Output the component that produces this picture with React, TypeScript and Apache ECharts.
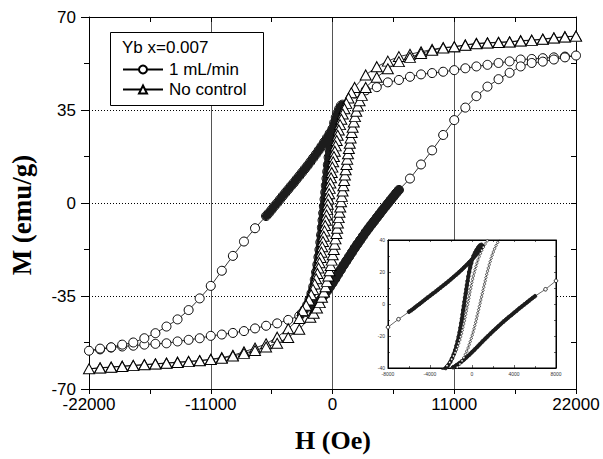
import React, { useEffect, useRef } from "react";
import * as echarts from "echarts";

type P = [number, number];

// ---- axis ranges / ticks ----
const X_MIN = -22000, X_MAX = 22000, X_STEP = 11000, X_MINOR = 5500;
const Y_MIN = -70, Y_MAX = 70, Y_STEP = 35, Y_MINOR = 17.5;
const IX_MIN = -8000, IX_MAX = 8000, IX_STEP = 4000;
const IY_MIN = -40, IY_MAX = 40, IY_STEP = 20;

const LEGEND_TITLE = "Yb x=0.007";
const NAME_A = "1 mL/min";
const NAME_B = "No control";
const X_TITLE = "H (Oe)";
const Y_TITLE = "M (emu/g)";

// ---- 1 mL/min (circles), [H (Oe), M (emu/g)] ----
const circUpperRight: P[] = [[2000,41.2],[3000,42.4],[4000,43.6],[5000,45.4],[6000,46.3],[7000,47.5],[8000,48.4],[9000,48.9],[10000,49.4],[11000,50.0],[12000,50.7],[13000,51.4],[14000,52.0],[15000,52.7],[16000,53.3],[17000,54.0],[18000,54.2],[19000,54.5],[20000,54.8],[21000,55.1],[22000,55.5]];
const circLowerRight: P[] = [[21000,54.8],[20000,54.0],[19000,53.2],[18000,52.7],[17000,51.4],[16000,49.0],[15000,46.6],[14000,43.8],[13000,40.2],[12000,35.9],[11000,31.2],[10000,25.6],[9000,19.8],[8000,14.5],[7000,9.2],[6000,4.9]];
const circLowerBand: P[] = [[5750,3.7],[5500,2.4],[5250,1.1],[5000,-0.2],[4750,-1.5],[4500,-2.8],[4250,-4.2],[4000,-5.5],[3750,-6.9],[3500,-8.2],[3250,-9.6],[3000,-11.0],[2750,-12.5],[2500,-14.0],[2250,-15.5],[2000,-17.0],[1750,-18.6],[1500,-20.2],[1250,-21.8],[1000,-23.4],[750,-25.1],[500,-26.8],[250,-28.5],[0,-30.1],[-250,-31.7],[-500,-33.2],[-750,-34.7],[-1000,-36.0],[-1250,-37.2],[-1500,-38.3],[-1800,-39.5]];
const circLowerLeft: P[] = [[-2400,-41.0],[-3000,-42.5],[-4000,-44.0],[-5000,-45.3],[-6000,-46.2],[-7000,-47.2],[-8000,-48.2],[-9000,-48.9],[-10000,-49.5],[-11000,-50.0],[-12000,-50.9],[-13000,-51.5],[-14000,-52.1],[-15000,-52.8],[-16000,-53.0],[-17000,-53.3],[-18000,-53.7],[-19000,-54.0],[-20000,-54.4],[-21000,-55.1],[-22000,-55.6]];
const circUpperLeft: P[] = [[-21000,-54.8],[-20000,-54.3],[-19000,-53.3],[-18000,-52.5],[-17000,-50.9],[-16000,-49.0],[-15000,-46.5],[-14000,-43.8],[-13000,-40.3],[-12000,-35.9],[-11000,-31.2],[-10000,-25.5],[-9000,-19.9],[-8000,-14.5],[-7000,-9.5],[-6000,-4.9]];
const circUpperBand: P[] = [[-5750,-3.8],[-5500,-2.5],[-5250,-1.2],[-5000,0.0],[-4750,1.3],[-4500,2.6],[-4250,3.9],[-4000,5.1],[-3750,6.4],[-3500,7.6],[-3250,8.9],[-3000,10.2],[-2750,11.5],[-2500,12.8],[-2250,14.1],[-2000,15.5],[-1750,16.9],[-1500,18.3],[-1250,19.8],[-1000,21.3],[-750,22.9],[-500,24.5],[-250,26.2],[0,27.9],[250,29.7],[500,31.6],[750,33.6],[900,35.0],[1000,36.2]];
const circSteep: P[] = [[900,37.0],[750,36.6],[600,35.4],[450,33.9],[300,32.2],[150,30.2],[30,28.0],[-80,25.5],[-180,22.8],[-270,20.0],[-350,17.2],[-420,14.4],[-480,11.8],[-540,9.2],[-600,6.6],[-660,4.0],[-720,1.4],[-780,-1.2],[-840,-3.8],[-900,-6.5],[-960,-9.2],[-1030,-12.0],[-1100,-14.8],[-1180,-17.6],[-1270,-20.4],[-1370,-23.2],[-1480,-26.0],[-1600,-28.8],[-1740,-31.5],[-1900,-34.0],[-2080,-36.3],[-2280,-38.3],[-2500,-40.0],[-2750,-41.4]];

// ---- No control (triangles) ----
const triUpperRight: P[] = [[22000,62.8],[21000,62.6],[20000,62.2],[19000,61.7],[18000,61.3],[17000,61.1],[16000,60.7],[15000,60.5],[14000,60.3],[13000,60.1],[12000,59.5],[11000,58.8],[10000,58.5],[9000,57.8],[8000,56.9],[7000,56.0],[6000,55.1],[5000,53.4],[4000,51.3],[3000,48.2],[2000,43.5]];
const triLeftColumn: P[] = [[1700,41.5],[1450,39.5],[1250,37.5],[1080,35.5],[930,33.5],[800,31.5],[680,29.5],[570,27.5],[470,25.5],[380,23.5],[290,21.5],[210,19.5],[130,17.5],[60,15.5],[-10,13.5],[-70,11.5],[-130,9.5],[-190,7.5],[-250,5.5],[-300,3.5],[-360,1.5],[-420,-0.5],[-480,-2.5],[-540,-4.5],[-600,-6.5],[-660,-8.5],[-720,-10.5],[-790,-12.5],[-860,-14.5],[-930,-16.5],[-1000,-18.5],[-1080,-20.5],[-1170,-22.5],[-1260,-24.5],[-1360,-26.5],[-1480,-28.5],[-1610,-30.5],[-1760,-32.5],[-1930,-34.5],[-2130,-36.5],[-2380,-38.5],[-2700,-40.5]];
const triUpperLeft: P[] = [[-3000,-43.5],[-4000,-47.3],[-5000,-50.5],[-6000,-53.0],[-7000,-54.6],[-8000,-56.0],[-9000,-57.3],[-10000,-58.2],[-11000,-58.8],[-12000,-59.3],[-13000,-59.6],[-14000,-59.9],[-15000,-60.2],[-16000,-60.5],[-17000,-60.8],[-18000,-61.1],[-19000,-61.4],[-20000,-61.7],[-21000,-62.0],[-22000,-62.4]];
const triLowerLeft: P[] = [[-21000,-62.1],[-20000,-61.8],[-19000,-61.5],[-18000,-61.2],[-17000,-60.9],[-16000,-60.6],[-15000,-60.3],[-14000,-60.0],[-13000,-59.7],[-12000,-59.4],[-11000,-58.9],[-10000,-58.4],[-9000,-57.6],[-8000,-56.6],[-7000,-55.5],[-6000,-54.2],[-5000,-52.8],[-4000,-50.6],[-3000,-47.5],[-2000,-43.0]];
const triRightColumn: P[] = [[-1700,-41.5],[-1400,-39.5],[-1150,-37.5],[-950,-35.5],[-780,-33.5],[-630,-31.5],[-500,-29.5],[-380,-27.5],[-270,-25.5],[-170,-23.5],[-70,-21.5],[20,-19.5],[110,-17.5],[190,-15.5],[270,-13.5],[350,-11.5],[420,-9.5],[490,-7.5],[560,-5.5],[630,-3.5],[700,-1.5],[770,0.5],[840,2.5],[910,4.5],[980,6.5],[1050,8.5],[1120,10.5],[1190,12.5],[1260,14.5],[1330,16.5],[1400,18.5],[1480,20.5],[1560,22.5],[1640,24.5],[1730,26.5],[1820,28.5],[1920,30.5],[2030,32.5],[2150,34.5],[2290,36.5],[2450,38.5],[2650,40.5]];
const triLowerRight: P[] = [[3000,43.5],[4000,47.3],[5000,50.5],[6000,53.2],[7000,54.8],[8000,56.3],[9000,57.5],[10000,58.3],[11000,58.8],[12000,59.4],[13000,59.9],[14000,60.2],[15000,60.4],[16000,60.6],[17000,61.0],[18000,61.2],[19000,61.6],[20000,62.1],[21000,62.5],[22000,62.8]];

const SANS = "'Liberation Sans', Arial, sans-serif";
const SERIF = "'Liberation Serif', 'Times New Roman', serif";

export default function App() {
  const ref = useRef<HTMLDivElement>(null);
  useEffect(() => {
    if (!ref.current) return;
    const chart = echarts.init(ref.current, undefined, { renderer: "svg" });

    const circData = [
      ...circUpperRight, ...circLowerRight, ...circLowerBand, ...circLowerLeft,
      ...circUpperLeft, ...circUpperBand, ...circSteep,
    ];
    const triData = [
      ...triUpperRight, ...triLeftColumn, ...triUpperLeft,
      ...triLowerLeft, ...triRightColumn, ...triLowerRight,
    ];
    // densely measured stretches of the 1 mL/min curve (drawn as dark bands)
    const bandLower = [circLowerRight[circLowerRight.length - 1], ...circLowerBand];
    const bandUpper = [circUpperLeft[circUpperLeft.length - 1], ...circUpperBand, ...circSteep];

    const black = "#000";
    const plain = (v: number) => String(v);
    const mainLabel = { color: black, fontSize: 17, fontFamily: SANS, formatter: plain, lineHeight: 14 };
    const insetLabel = { color: "#333", fontSize: 5, fontFamily: SANS, formatter: plain };

    const band = (name: string, data: P[], xi: number, w: number, z: number) => ({
      name, type: "line", xAxisIndex: xi, yAxisIndex: xi, data, symbol: "none", z, clip: true,
      lineStyle: { color: "#1c1c1c", width: w, cap: "round", join: "round" },
      silent: true,
    });

    chart.setOption({
      animation: false,
      backgroundColor: "#fff",
      grid: [
        { left: 89, top: 17, width: 487, height: 372, show: false },
        { left: 388, top: 240, width: 168, height: 128, show: true, backgroundColor: "#fff", borderColor: black, borderWidth: 1, z: 1 },
      ],
      xAxis: [
        {
          type: "value", gridIndex: 0, position: "bottom", min: X_MIN, max: X_MAX, interval: X_STEP,
          axisLine: { onZero: false, lineStyle: { color: black, width: 1 } },
          axisTick: { show: true, inside: false, length: 5, lineStyle: { color: black } },
          minorTick: { show: true, splitNumber: 2, length: 5, lineStyle: { color: black } },
          axisLabel: { ...mainLabel, margin: 8 },
          splitLine: { show: true, lineStyle: { color: "#555", width: 1, type: "solid" } },
        },
        {
          type: "value", gridIndex: 0, position: "top", min: X_MIN, max: X_MAX, interval: X_MINOR,
          axisLine: { onZero: false, lineStyle: { color: black, width: 1 } },
          axisTick: { show: true, inside: true, length: 5, lineStyle: { color: black } },
          axisLabel: { show: false }, splitLine: { show: false },
        },
        {
          type: "value", gridIndex: 1, position: "bottom", min: IX_MIN, max: IX_MAX, interval: IX_STEP, z: 2,
          axisLine: { onZero: false, lineStyle: { color: black, width: 1 } },
          axisTick: { show: true, inside: true, length: 3, lineStyle: { color: black, width: 0.6 } },
          minorTick: { show: true, splitNumber: 2, length: 2, lineStyle: { color: black, width: 0.6 } },
          axisLabel: { ...insetLabel, margin: 3 },
          splitLine: { show: false },
        },
        {
          type: "value", gridIndex: 1, position: "top", min: IX_MIN, max: IX_MAX, interval: IX_STEP / 2, z: 2,
          axisLine: { onZero: false, lineStyle: { color: black, width: 1 } },
          axisTick: { show: true, inside: true, length: 2, lineStyle: { color: black, width: 0.6 } },
          axisLabel: { show: false }, splitLine: { show: false },
        },
      ],
      yAxis: [
        {
          type: "value", gridIndex: 0, position: "left", min: Y_MIN, max: Y_MAX, interval: Y_STEP,
          axisLine: { onZero: false, lineStyle: { color: black, width: 1 } },
          axisTick: { show: true, inside: false, length: 8, lineStyle: { color: black } },
          minorTick: { show: true, splitNumber: 2, length: 5, lineStyle: { color: black } },
          axisLabel: { ...mainLabel, margin: 13 },
          splitLine: { show: true, lineStyle: { color: black, width: 1, type: [1, 2] } },
        },
        {
          type: "value", gridIndex: 0, position: "right", min: Y_MIN, max: Y_MAX, interval: Y_MINOR,
          axisLine: { onZero: false, lineStyle: { color: black, width: 1 } },
          axisTick: { show: true, inside: true, length: 5, lineStyle: { color: black } },
          axisLabel: { show: false }, splitLine: { show: false },
        },
        {
          type: "value", gridIndex: 1, position: "left", min: IY_MIN, max: IY_MAX, interval: IY_STEP, z: 2,
          axisLine: { onZero: false, lineStyle: { color: black, width: 1 } },
          axisTick: { show: true, inside: true, length: 3, lineStyle: { color: black, width: 0.6 } },
          minorTick: { show: true, splitNumber: 2, length: 2, lineStyle: { color: black, width: 0.6 } },
          axisLabel: { ...insetLabel, margin: 3 },
          splitLine: { show: false },
        },
        {
          type: "value", gridIndex: 1, position: "right", min: IY_MIN, max: IY_MAX, interval: IY_STEP / 2, z: 2,
          axisLine: { onZero: false, lineStyle: { color: black, width: 1 } },
          axisTick: { show: true, inside: true, length: 2, lineStyle: { color: black, width: 0.6 } },
          axisLabel: { show: false }, splitLine: { show: false },
        },
      ],
      legend: {
        data: [NAME_A, NAME_B],
        orient: "vertical", left: 122, top: 61, itemWidth: 40, itemHeight: 10, itemGap: 3,
        padding: 0, selectedMode: false, z: 6,
        textStyle: { color: black, fontSize: 17, fontFamily: SANS, padding: [0, 0, 0, 1] },
      },
      graphic: [
        { type: "rect", z: 3, shape: { x: 110.5, y: 32.5, width: 153, height: 73 }, style: { fill: "#fff", stroke: black, lineWidth: 1 } },
        { type: "text", z: 6, x: 122, y: 47, style: { text: LEGEND_TITLE, fill: black, fontSize: 17, fontFamily: SANS, textAlign: "left", textVerticalAlign: "middle", align: "left", verticalAlign: "middle" } },
        { type: "text", z: 6, x: 333, y: 440, style: { text: X_TITLE, fill: black, fontSize: 26, fontWeight: "bold", fontFamily: SERIF, textAlign: "center", textVerticalAlign: "middle", align: "center", verticalAlign: "middle" } },
        { type: "text", z: 6, x: 22, y: 215, rotation: Math.PI / 2, style: { text: Y_TITLE, fill: black, fontSize: 27, fontWeight: "bold", fontFamily: SERIF, textAlign: "center", textVerticalAlign: "middle", align: "center", verticalAlign: "middle" } },
      ],
      series: [
        {
          name: NAME_A, type: "line", xAxisIndex: 0, yAxisIndex: 0, data: circData,
          symbol: "circle", symbolSize: 9, showAllSymbol: true, z: 2,
          lineStyle: { color: black, width: 0.8 },
          itemStyle: { color: "#fff", borderColor: black, borderWidth: 1 },
        },
        band("band-lower", bandLower, 0, 9, 2.5),
        band("band-upper", bandUpper, 0, 8, 2.5),
        {
          name: NAME_B, type: "line", xAxisIndex: 0, yAxisIndex: 0, data: triData,
          symbol: "triangle", symbolSize: [11, 10], showAllSymbol: true, z: 3,
          lineStyle: { color: black, width: 0.8 },
          itemStyle: { color: "#fff", borderColor: black, borderWidth: 1 },
        },
        {
          name: "inset-a", type: "line", xAxisIndex: 2, yAxisIndex: 2, data: circData,
          symbol: "circle", symbolSize: 3.6, showAllSymbol: true, z: 4, clip: true,
          lineStyle: { color: black, width: 0.6 },
          itemStyle: { color: "#fff", borderColor: black, borderWidth: 0.8 },
        },
        band("inset-band-lower", bandLower, 2, 3.6, 4.5),
        band("inset-band-upper", bandUpper, 2, 3.6, 4.5),
        {
          name: "inset-b", type: "line", xAxisIndex: 2, yAxisIndex: 2, data: triData,
          symbol: "circle", symbolSize: 2.4, showAllSymbol: true, z: 5, clip: true,
          lineStyle: { color: black, width: 0.5 },
          itemStyle: { color: "#fff", borderColor: black, borderWidth: 0.6 },
        },
      ],
    });
    return () => chart.dispose();
  }, []);
  return <div ref={ref} style={{ position: "fixed", left: 0, top: 0, width: 603, height: 459 }} />;
}
